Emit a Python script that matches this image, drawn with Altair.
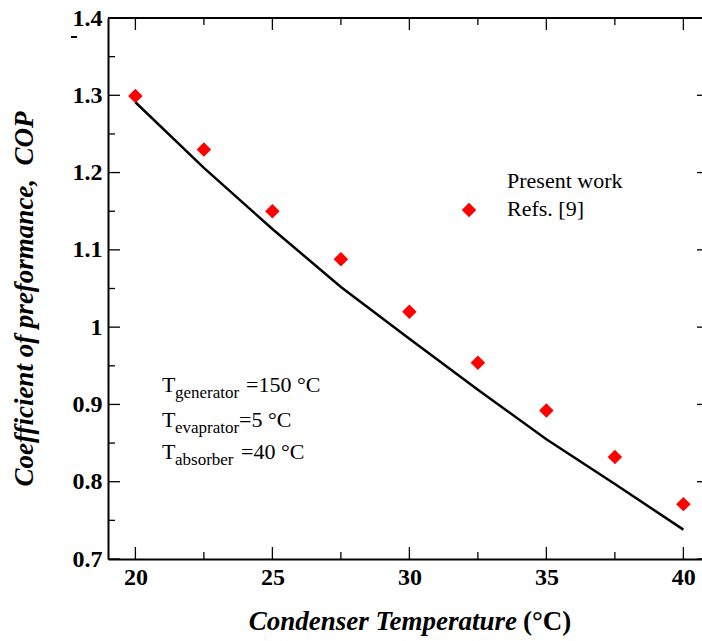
import altair as alt
import pandas as pd

# ---------------- data ----------------
temps = [20, 22.5, 25, 27.5, 30, 32.5, 35, 37.5, 40]
cop_present = [1.291, 1.206, 1.127, 1.052, 0.985, 0.919, 0.855, 0.797, 0.738]
cop_refs = [1.299, 1.230, 1.150, 1.088, 1.020, 0.954, 0.892, 0.832, 0.771]

legend_labels = ["Present work", "Refs. [9]"]
y_major = [0.7, 0.8, 0.9, 1.0, 1.1, 1.2, 1.3, 1.4]
y_minor = [0.75, 0.85, 0.95, 1.05, 1.15, 1.25, 1.35]
x_major = [20, 25, 30, 35, 40]
x_minor = [22.5, 27.5, 32.5, 37.5]

ann_subs = ["generator", "evaprator", "absorber"]
ann_vals = ["=150 °C", "=5 °C", "=40 °C"]

x_title_parts = ["Condenser Temperature", "(°C)"]
y_title = "Coefficient of preformance, \u00a0COP"

# ---------------- layout ----------------
W, H = 594, 541
FONT = "Times New Roman, Liberation Serif, serif"
xs = alt.Scale(domain=[19, 40.68], nice=False, zero=False)
ys = alt.Scale(domain=[0.7, 1.4], nice=False, zero=False)

df = pd.DataFrame({"T": temps, "present": cop_present, "refs": cop_refs})
ymaj = pd.DataFrame({"v": y_major})
ymin = pd.DataFrame({"v": y_minor})
xmaj = pd.DataFrame({"v": x_major})
xmin = pd.DataFrame({"v": x_minor})
one = ymaj.head(1)

x_axis = alt.Axis(values=x_major, format="d", ticks=False, grid=False, domain=True,
                  domainColor="black", domainWidth=2, labelFont=FONT, labelFontSize=24,
                  labelFontWeight="bold", labelColor="black", labelPadding=6,
                  labelFlush=False, title=None)
y_axis = alt.Axis(values=y_major, format=".1~f", ticks=False, grid=False, domain=True,
                  domainColor="black", domainWidth=2, labelFont=FONT, labelFontSize=24,
                  labelFontWeight="bold", labelColor="black", labelPadding=6,
                  labelFlush=False, labelOverlap=False, title=None)

line = alt.Chart(df).mark_line(color="black", strokeWidth=2.5).encode(
    x=alt.X("T:Q", scale=xs, axis=x_axis),
    y=alt.Y("present:Q", scale=ys, axis=y_axis),
)
pts = alt.Chart(df).mark_point(shape="diamond", filled=True, color="#ff0000",
                               size=210, opacity=1).encode(
    x=alt.X("T:Q", scale=xs),
    y=alt.Y("refs:Q", scale=ys),
)

layers = [line, pts]

# frame top line
layers.append(alt.Chart(one).mark_rule(color="black", strokeWidth=2).encode(
    x=alt.value(0), x2=alt.value(W), y=alt.value(0)))

# inward ticks
def yticks(d, x0, x1):
    return alt.Chart(d).mark_rule(color="black", strokeWidth=1.3).encode(
        y=alt.Y("v:Q", scale=ys), x=alt.value(x0), x2=alt.value(x1))

def xticks(d, y0, y1):
    return alt.Chart(d).mark_rule(color="black", strokeWidth=1.3).encode(
        x=alt.X("v:Q", scale=xs), y=alt.value(y0), y2=alt.value(y1))

layers += [
    yticks(ymaj, 0, 12), yticks(ymin, 0, 7), yticks(ymaj, W - 5, W),
    xticks(xmaj, H, H - 12), xticks(xmin, H, H - 7),
    xticks(xmaj, 0, 12), xticks(xmin, 0, 7),
]

# legend (manual)
layers.append(alt.Chart(one).mark_point(shape="diamond", filled=True,
                                        color="#ff0000", size=210, opacity=1).encode(
    x=alt.value(361), y=alt.value(192)))
for i, lab in enumerate(legend_labels):
    layers.append(alt.Chart(one).mark_text(
        text=lab, font=FONT, fontSize=22, align="left", baseline="alphabetic",
        color="black").encode(x=alt.value(399), y=alt.value(170 + 28 * i)))

# annotation with subscripts
base_y = [374, 409, 441]
val_x = [138, 131, 133]
for i, (sub, val) in enumerate(zip(ann_subs, ann_vals)):
    layers.append(alt.Chart(one).mark_text(
        text="T", font=FONT, fontSize=22, align="left", baseline="alphabetic",
        color="black").encode(x=alt.value(54), y=alt.value(base_y[i])))
    layers.append(alt.Chart(one).mark_text(
        text=sub, font=FONT, fontSize=17, align="left", baseline="alphabetic",
        color="black").encode(x=alt.value(67), y=alt.value(base_y[i] + 6)))
    layers.append(alt.Chart(one).mark_text(
        text=val, font=FONT, fontSize=22, align="left", baseline="alphabetic",
        color="black").encode(x=alt.value(val_x[i]), y=alt.value(base_y[i])))

# axis titles
layers.append(alt.Chart(one).mark_text(
    text=x_title_parts[0], font=FONT, fontSize=27, fontWeight="bold", fontStyle="italic",
    align="right", baseline="middle", color="black").encode(
    x=alt.value(409), y=alt.value(604)))
layers.append(alt.Chart(one).mark_text(
    text=x_title_parts[1], font=FONT, fontSize=27, fontWeight="bold",
    align="left", baseline="middle", color="black").encode(
    x=alt.value(415), y=alt.value(604)))
layers.append(alt.Chart(one).mark_text(
    text=y_title, font=FONT, fontSize=27, fontWeight="bold", fontStyle="italic",
    align="center", baseline="middle", angle=270, color="black").encode(
    x=alt.value(-83), y=alt.value(281)))
# small stray dash near top-left
layers.append(alt.Chart(one).mark_rule(color="black", strokeWidth=2).encode(
    x=alt.value(-37), x2=alt.value(-31), y=alt.value(19)))

chart = alt.layer(*layers).properties(
    width=W, height=H,
    autosize=alt.AutoSizeParams(type="none"),
    padding={"left": 108, "top": 18, "right": 0, "bottom": 82},
    background="white",
).configure_view(stroke=None)

chart.save("out.html", embed_options={"renderer": "svg", "actions": False})
